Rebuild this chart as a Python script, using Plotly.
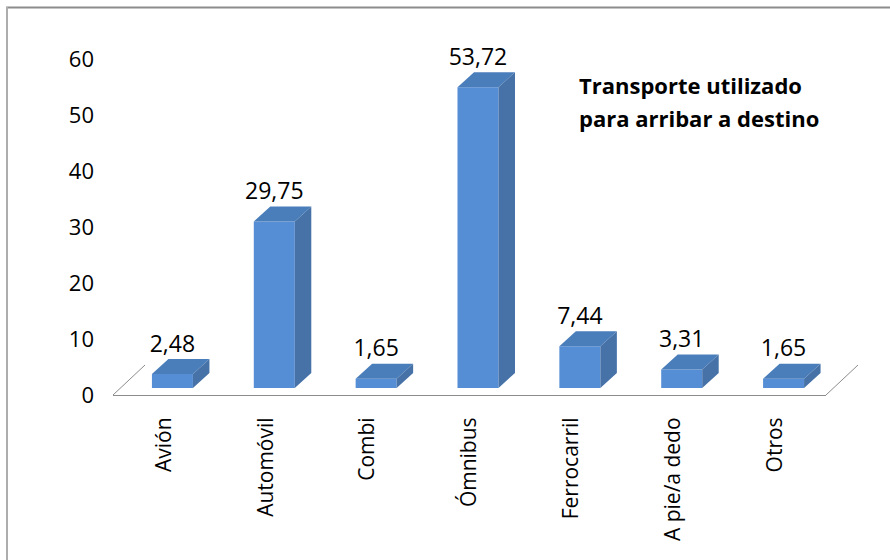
import plotly.graph_objects as go

categories = ["Avión", "Automóvil", "Combi", "Ómnibus", "Ferrocarril", "A pie/a dedo", "Otros"]
values = [2.48, 29.75, 1.65, 53.72, 7.44, 3.31, 1.65]
value_labels = ["2,48", "29,75", "1,65", "53,72", "7,44", "3,31", "1,65"]
y_ticks = [0, 10, 20, 30, 40, 50, 60]

FONT = "Open Sans"
PW, PH = 713, 336
ML, MT = 113, 59
KX = PW / 7
KY = PH / 60
BAR_W = 41 / KX
SHIFT = 8.5 / KX
DX = 16.5 / KX
DY = 15 / KY
BASE = 7 / KY

xs = [i + SHIFT for i in range(len(values))]

top_x, top_y, side_x, side_y = [], [], [], []
for x, v in zip(xs, values):
    l, r = x - BAR_W / 2, x + BAR_W / 2
    t = BASE + v
    top_x += [l, r, r + DX, l + DX, l, None]
    top_y += [t, t, t + DY, t + DY, t, None]
    side_x += [r, r + DX, r + DX, r, r, None]
    side_y += [BASE, BASE + DY, t + DY, t, BASE, None]

fig = go.Figure()
fig.add_trace(go.Bar(x=xs, y=values, base=BASE, width=BAR_W,
                     marker=dict(color="#558ED5", line_width=0), hoverinfo="skip"))
fig.add_trace(go.Scatter(x=top_x, y=top_y, mode="lines", fill="toself", fillcolor="#4A7EBB",
                         line=dict(width=0), hoverinfo="skip"))
fig.add_trace(go.Scatter(x=side_x, y=side_y, mode="lines", fill="toself", fillcolor="#4672A8",
                         line=dict(width=0), hoverinfo="skip"))
fig.add_trace(go.Scatter(x=xs, y=[BASE + v + DY + 0.3 for v in values],
                         mode="text", text=value_labels, textposition="top center",
                         textfont=dict(family=FONT, size=23, color="#000000"),
                         cliponaxis=False, hoverinfo="skip"))


def px(p):
    return (p - ML) / PW


def py(p):
    return 1 - (p - MT) / PH


floor = "#8C8C8C"
shapes = [
    dict(type="line", xref="paper", yref="paper", x0=px(6), y0=py(7.5), x1=px(890), y1=py(7.5),
         line=dict(color="#8C8C8C", width=2)),
    dict(type="line", xref="paper", yref="paper", x0=px(7), y0=py(7), x1=px(7), y1=py(560),
         line=dict(color="#ADADAD", width=2)),
    dict(type="line", xref="paper", yref="paper", x0=px(113), y0=py(395), x1=px(145), y1=py(365),
         line=dict(color=floor, width=1)),
    dict(type="line", xref="paper", yref="paper", x0=px(826), y0=py(395), x1=px(858), y1=py(365),
         line=dict(color=floor, width=1)),
]

annotations = [
    dict(text="<b>Transporte utilizado</b>", xref="paper", yref="paper", x=px(577), y=py(85),
         xanchor="left", yanchor="middle", showarrow=False,
         font=dict(family=FONT, size=22, color="#000000")),
    dict(text="<b>para arribar a destino</b>", xref="paper", yref="paper", x=px(577), y=py(118),
         xanchor="left", yanchor="middle", showarrow=False,
         font=dict(family=FONT, size=22, color="#000000")),
]

fig.update_layout(
    width=890, height=560, autosize=False,
    margin=dict(l=ML, r=890 - ML - PW, t=MT, b=560 - MT - PH),
    paper_bgcolor="#FFFFFF", plot_bgcolor="#FFFFFF",
    showlegend=False, shapes=shapes, annotations=annotations,
    xaxis=dict(range=[-0.5, 6.5], tickmode="array", tickvals=list(range(len(categories))),
               ticktext=categories, tickangle=-90, showgrid=False, zeroline=False,
               showline=True, linecolor=floor, linewidth=1, ticks="", ticklabelstandoff=13,
               tickfont=dict(family=FONT, size=21, color="#000000")),
    yaxis=dict(range=[0, 60], tickmode="array", tickvals=y_ticks, showgrid=False, zeroline=False,
               showline=False, ticks="", ticklabelstandoff=18,
               tickfont=dict(family=FONT, size=22, color="#000000")),
)
fig.write_html("out.html", config={"displayModeBar": False},
               post_script="document.body.style.margin='0';")
